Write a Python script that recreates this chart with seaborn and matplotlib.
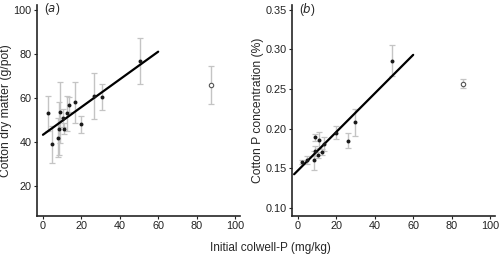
import numpy as np
import pandas as pd
import matplotlib
matplotlib.use('Agg')
import matplotlib.pyplot as plt
import seaborn as sns

sns.set_style('ticks')
plt.rcParams['font.family'] = ['Liberation Sans', 'DejaVu Sans']

# Panel (a): cotton dry matter (g/pot)
colwell_a = [2.5, 4.5, 8.0, 8.3, 8.7, 10.5, 11.0, 12.5, 13.5, 16.5, 20.0, 26.5, 30.5, 50.5]
dry_matter = [53, 39, 42, 46, 53.5, 51, 46, 53, 57, 58, 48, 61, 60.5, 77]
dry_err = [8, 8.5, 9, 12, 14, 4, 2.5, 8, 3.5, 9.5, 4, 10.5, 6, 10.5]
outlier_a = (87.5, 66, 8.5)
fit_a = (43.3, 0.63)          # intercept, slope
fit_range_a = (0, 60)

# Panel (b): cotton P concentration (%)
colwell_b = [2.0, 4.5, 8.5, 8.7, 8.8, 10.2, 10.9, 12.6, 13.5, 19.6, 26.1, 29.9, 49.1]
p_conc = [0.158, 0.161, 0.160, 0.172, 0.189, 0.167, 0.186, 0.171, 0.181, 0.195, 0.185, 0.208, 0.286]
p_err = [0.002, 0.005, 0.012, 0.006, 0.004, 0.004, 0.010, 0.004, 0.009, 0.008, 0.009, 0.017, 0.020]
outlier_b = (85.8, 0.257, 0.006)
fit_b = (0.1474, 0.00243)
fit_range_b = (-2, 60)

fig = plt.figure(figsize=(5, 2.54), dpi=100)
ax1 = fig.add_axes([0.074, 0.150, 0.406, 0.830])
ax2 = fig.add_axes([0.584, 0.150, 0.406, 0.830])

err_kw = dict(fmt='none', ecolor='#c4c4c4', elinewidth=1.0, capsize=2, capthick=0.9, zorder=1)


def draw_panel(ax, x, y, e, outlier, fit, fit_range):
    ax.errorbar(x, y, yerr=e, **err_kw)
    ax.errorbar([outlier[0]], [outlier[1]], yerr=[outlier[2]], **err_kw)
    df = pd.DataFrame({'x': x, 'y': y})
    sns.scatterplot(data=df, x='x', y='y', ax=ax, color='#1a1a1a', s=8,
                    linewidth=0, zorder=3)
    ax.scatter([outlier[0]], [outlier[1]], s=10, facecolor='white',
               edgecolor='#555555', linewidth=0.8, zorder=3)
    xs = np.array(fit_range)
    line = pd.DataFrame({'x': xs, 'y': fit[0] + fit[1] * xs})
    sns.lineplot(data=line, x='x', y='y', ax=ax, color='black', linewidth=1.6, zorder=2)
    ax.set_xlim(-3.1, 102.6)
    ax.set_xticks([0, 20, 40, 60, 80, 100])
    ax.set_xlabel('')
    sns.despine(ax=ax)
    for s in ['left', 'bottom']:
        ax.spines[s].set_linewidth(1.2)
    ax.tick_params(labelsize=7.8, length=2.5, width=0.8, pad=1.5, colors='#222222')


draw_panel(ax1, colwell_a, dry_matter, dry_err, outlier_a, fit_a, fit_range_a)
ax1.set_ylim(6.4, 102.3)
ax1.set_yticks([20, 40, 60, 80, 100])
ax1.set_ylabel('Cotton dry matter (g/pot)', fontsize=8.7, labelpad=1)
ax1.text(0.035, 1.02, '($\\it{a}$)', transform=ax1.transAxes, fontsize=8.5, va='top')

draw_panel(ax2, colwell_b, p_conc, p_err, outlier_b, fit_b, fit_range_b)
ax2.set_ylim(0.09, 0.356)
ax2.set_yticks([0.10, 0.15, 0.20, 0.25, 0.30, 0.35])
ax2.set_yticklabels([f'{v:.2f}' for v in [0.10, 0.15, 0.20, 0.25, 0.30, 0.35]])
ax2.set_ylabel('Cotton P concentration (%)', fontsize=8.7, labelpad=1)
ax2.text(0.035, 1.02, '($\\it{b}$)', transform=ax2.transAxes, fontsize=8.5, va='top')

fig.text(0.54, 0.024, 'Initial colwell-P (mg/kg)', ha='center', va='center', fontsize=8.5)

fig.savefig('out.png', dpi=100)
